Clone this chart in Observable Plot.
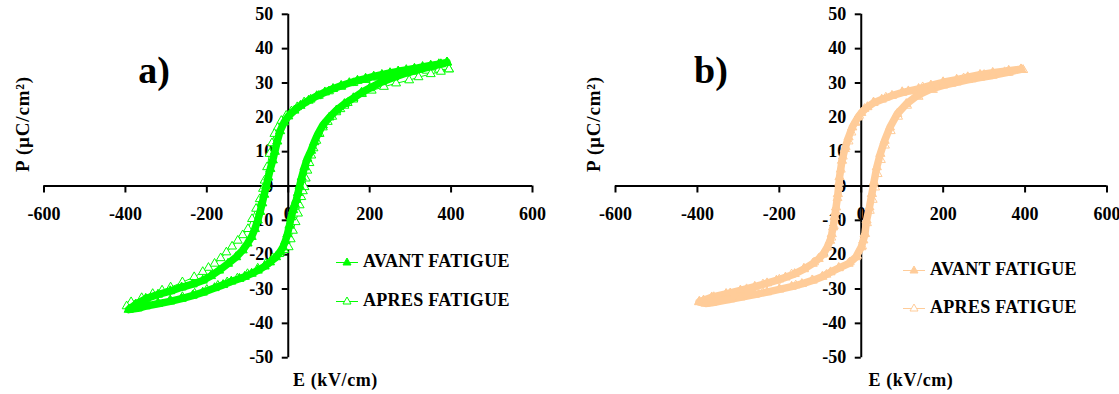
<!DOCTYPE html>
<html><head><meta charset="utf-8">
<script src="https://cdn.jsdelivr.net/npm/d3@7"></script>
<script src="https://cdn.jsdelivr.net/npm/@observablehq/plot@0.6"></script>
<style>
body{margin:0;background:#fff;}
#wrap{position:relative;width:1119px;height:394px;overflow:hidden;font-family:"Liberation Serif","Times New Roman",serif;font-weight:bold;color:#000;}
.panel{position:absolute;top:0;}
.abs{position:absolute;white-space:nowrap;transform:translate(-50%,-50%);}
.tag{font-size:38px;}
.ax{font-size:18px;letter-spacing:0.6px;}
.pl{font-size:19px;letter-spacing:0.8px;transform:translate(-50%,-50%) rotate(-90deg);}
.leg{position:absolute;display:flex;align-items:center;gap:5px;font-size:18px;letter-spacing:0.3px;transform:translateY(-50%);white-space:nowrap;}
</style></head><body><div id="wrap"></div>
<script>
// ---- data (E in kV/cm, P in µC/cm²) ----
const xTicks = [-600, -400, -200, 0, 200, 400, 600];
const xTickLabels = ["-600", "-400", "-200", "0", "200", "400", "600"];
const yTicks = [50, 40, 30, 20, 10, 0, -10, -20, -30, -40, -50];
const yTickLabels = ["50", "40", "30", "20", "10", "0", "-10", "-20", "-30", "-40", "-50"];
const seriesNames = ["AVANT FATIGUE", "APRES FATIGUE"];
const panelTags = ["a)", "b)"];
const xLabel = "E (kV/cm)";
const yLabel = "P (µC/cm²)";
const colorA = "#00ff00";
const colorB = "#ffcc99";

// panel a) - avant fatigue (filled triangles)
const aAvant = [
[390,36],[370,35.5],[350,35.1],[330,34.7],[310,34.2],[290,33.8],[270,33.4],[250,32.9],[230,32.4],[210,31.9],[190,31.3],[170,30.7],[150,30],[130,29.2],[110,28.3],[90,27.3],[70,26.2],[50,24.9],[30,23.4],[15,22],[0,20.3],[-10,18.6],[-20,16],[-27,13],[-33,10],[-38,7.5],[-44,5],[-49,2.5],[-54,0],[-59,-2.5],[-64,-5],[-69,-7.5],[-75,-10],[-82,-12.5],[-90,-14.8],[-100,-16.7],[-112,-18.7],[-128,-20.7],[-148,-22.6],[-170,-24.6],[-190,-26.2],[-210,-27.5],[-235,-28.6],[-262,-29.5],[-290,-30.6],[-320,-31.6],[-350,-32.8],[-375,-34.5],[-392,-36],
[-370,-35.6],[-350,-35],[-320,-34.3],[-290,-33.6],[-262,-32.8],[-235,-31.9],[-210,-31],[-181,-29.7],[-160,-28.8],[-140,-27.8],[-120,-27],[-107,-26.4],[-90,-25.5],[-75,-24.6],[-58,-23.4],[-45,-22.2],[-30,-20.7],[-20,-19.2],[-13,-17.8],[-7,-16],[-2,-14],[3,-11.5],[7,-9.1],[12,-7],[16,-5.3],[20,-4],[24,-2],[28,0],[33,2.5],[40,5.5],[47,8],[56,10.3],[64,12.8],[73,15.2],[85,17.7],[101,20],[118,22],[138,23.9],[160,25.6],[180,27.2],[200,28.5],[230,30.3],[260,31.7],[290,32.9],[320,33.9],[350,34.8],[375,35.5],[390,36]
];
// panel a) - apres fatigue (open triangles)
const aApres = [
[395,34],[370,33.9],[340,33.6],[310,33.3],[280,32.9],[250,32.3],[220,31.6],[190,30.9],[160,30],[130,28.9],[100,27.6],[75,26.3],[55,25.2],[39,24.4],[22,23],[8,21.8],[-5,20.5],[-17,19],[-26,17],[-34,15.2],[-40,12.5],[-46,9.4],[-52,5.5],[-58,1.6],[-62,-0.8],[-70,-3.8],[-79,-6.6],[-89,-9.6],[-99,-12.5],[-112,-14.3],[-124,-15.9],[-138,-17.6],[-152,-19.3],[-166,-21],[-181,-22.6],[-196,-23.8],[-210,-25],[-231,-26.5],[-260,-28],[-289,-29.5],[-310,-30.4],[-333,-31.4],[-360,-32.6],[-386,-33.8],[-397,-35],
[-380,-35.2],[-350,-34.6],[-320,-34],[-290,-33.2],[-260,-32.3],[-230,-31.3],[-200,-30.2],[-173,-29],[-150,-28],[-125,-26.9],[-100,-25.6],[-75,-24],[-55,-22.6],[-38,-21],[-22,-19.8],[-10,-18.6],[1,-17.8],[6,-15.5],[11.5,-13],[18,-10.5],[24,-8],[28,-5.6],[32,-3.2],[36,-1.5],[40,-0.3],[43,2.2],[47,4.5],[52,6.7],[56.5,8.9],[62,11],[69,13.2],[77,15.2],[85,17.1],[97,18.7],[108,20.2],[118,21.5],[128,22.4],[138,23.4],[146,24.2],[160,25.2],[181,26.8],[205,27.8],[235,28.9],[265,29.9],[297,30.8],[320,31.7],[350,32.6],[375,33.3],[395,34]
];
// panel b) - avant fatigue
const bAvant = [
[390,34],[360,33.6],[321,33],[290,32.4],[260,31.7],[233,31],[200,30.2],[170,29.3],[140,28.3],[115,27.6],[100,27.2],[75,26.3],[50,25.2],[30,24.2],[15,23],[0,21.3],[-8,20],[-15,18.6],[-22,17.1],[-31,14.2],[-40,10.8],[-47,7.4],[-53,2.6],[-57,-2.3],[-61.5,-6.2],[-65,-9],[-68.6,-12],[-72,-14],[-76,-15.9],[-83,-17.8],[-92,-19.7],[-104,-21.2],[-118.6,-22.6],[-140,-24.2],[-162.6,-25.6],[-185,-26.6],[-207,-27.5],[-230,-28.3],[-260,-29.3],[-295,-30.4],[-330,-31.4],[-365,-32.4],[-385,-33.3],[-396,-33.8],
[-380,-34.2],[-365,-34],[-330,-33.2],[-295,-32.4],[-260,-31.6],[-230,-30.9],[-200,-30.1],[-170,-29.3],[-145,-28.5],[-118.6,-27.5],[-95,-26.4],[-75,-25.1],[-55,-23.9],[-31,-22.6],[-13,-20.7],[0,-17.8],[5,-15.8],[9,-13.9],[13,-10],[20,-6.2],[26,-2.3],[31,1.1],[38,5.5],[46.6,9.4],[57,13.2],[70,17.1],[88,21],[110,23.9],[136,26.3],[171,28.3],[200,29.3],[233,30.2],[260,30.9],[290,31.6],[321,32.2],[355,33],[390,34]
];
// panel b) - apres fatigue
const bApres = [
[395,33.8],[350,33.2],[300,32.4],[250,31.4],[200,30.3],[150,28.8],[100,27.4],[60,25.8],[30,24.4],[8,22.5],[-5,20.5],[-15,18.4],[-24,15.6],[-31,13],[-38,11.4],[-45,8.6],[-50,4.8],[-54,1],[-58,-3.5],[-62,-7.5],[-67,-11.6],[-73,-15],[-82,-17.7],[-95,-20],[-115,-22.2],[-140,-24],[-170,-25.7],[-200,-27.2],[-240,-28.6],[-280,-30],[-320,-31.2],[-360,-32.3],[-395,-33.6],
[-360,-33.8],[-320,-33],[-280,-32],[-240,-31],[-200,-30],[-160,-28.9],[-120,-27.4],[-85,-25.8],[-55,-23.8],[-28,-22.2],[-10,-20.3],[2,-17.5],[8,-14],[14,-10.8],[21,-7.2],[28,-4],[34,-0.4],[40,3.5],[48,7.6],[58,11.8],[72,16],[90,20.2],[112,23.4],[140,26],[175,28],[220,29.8],[270,31.1],[320,32.2],[360,33],[395,33.8]
];

// ---- drawing ----
const FONT = "'Liberation Serif', 'Times New Roman', serif";
function panel(avant, apres, color, w, ml, mr) {
  return Plot.plot({
    width: w, height: 394,
    marginLeft: ml, marginRight: mr, marginTop: 13.8, marginBottom: 36.8,
    x: {domain: [-600, 600], axis: null},
    y: {domain: [-50, 50], axis: null},
    style: {background: "transparent", overflow: "visible", fontFamily: FONT},
    marks: [
      Plot.ruleY([0], {stroke: "#000", strokeWidth: 2}),
      Plot.ruleX([0], {stroke: "#000", strokeWidth: 2}),
      Plot.ruleX(xTicks, {x: d => d, y1: 0, y2: 0, insetBottom: -7, stroke: "#000", strokeWidth: 2}),
      Plot.ruleY(yTicks, {y: d => d, x1: 0, x2: 0, insetLeft: -6, stroke: "#000", strokeWidth: 2}),
      Plot.text(xTicks, {x: d => d, y: 0, dy: 28.5, text: (d, i) => xTickLabels[i],
        fontFamily: FONT, fontWeight: "bold", fontSize: 18, letterSpacing: 0.6}),
      Plot.text(yTicks, {x: 0, y: d => d, dx: -15, textAnchor: "end", text: (d, i) => yTickLabels[i],
        fontFamily: FONT, fontWeight: "bold", fontSize: 18, letterSpacing: 0.6}),
      Plot.line(apres, {x: d => d[0], y: d => d[1], stroke: color, strokeWidth: 1}),
      Plot.dot(apres, {x: d => d[0], y: d => d[1], symbol: "triangle", r: 3.3, stroke: color, fill: "#fff", strokeWidth: 1}),
      Plot.line(avant, {x: d => d[0], y: d => d[1], stroke: color, strokeWidth: 7.5}),
      Plot.dot(avant, {x: d => d[0], y: d => d[1], symbol: "triangle", r: 3.4, fill: color, stroke: color, strokeWidth: 1})
    ]
  });
}

const wrap = document.getElementById("wrap");
function place(el, left) { el.classList.add("panel"); el.style.left = left + "px"; wrap.appendChild(el); }
place(panel(aAvant, aApres, colorA, 560, 43.5, 28), 0);
place(panel(bAvant, bApres, colorB, 559, 55, 12.5), 560);

function addDiv(cls, text, x, y) {
  const d = document.createElement("div");
  d.className = "abs " + cls;
  d.textContent = text;
  d.style.left = x + "px"; d.style.top = y + "px";
  wrap.appendChild(d);
  return d;
}
addDiv("tag", panelTags[0], 154, 70);
addDiv("tag", panelTags[1], 711, 70);
addDiv("ax", xLabel, 335.5, 380);
addDiv("ax", xLabel, 911, 380);
addDiv("pl", yLabel, 23, 124);
addDiv("pl", yLabel, 594, 124);

function legendRow(x, y, color, filled, label) {
  const d = document.createElement("div");
  d.className = "leg";
  d.style.left = x + "px"; d.style.top = y + "px";
  const ns = "http://www.w3.org/2000/svg";
  const s = document.createElementNS(ns, "svg");
  s.setAttribute("width", 22); s.setAttribute("height", 10);
  const l = document.createElementNS(ns, "line");
  l.setAttribute("x1", 0); l.setAttribute("x2", 22); l.setAttribute("y1", 6); l.setAttribute("y2", 6);
  l.setAttribute("stroke", color); l.setAttribute("stroke-width", 1.2);
  const p = document.createElementNS(ns, "path");
  p.setAttribute("d", "M11,1.5 L15,8.5 L7,8.5 Z");
  p.setAttribute("fill", filled ? color : "#fff"); p.setAttribute("stroke", color);
  s.appendChild(l); s.appendChild(p);
  const t = document.createElement("span"); t.textContent = label;
  d.appendChild(s); d.appendChild(t);
  wrap.appendChild(d);
}
legendRow(336, 261, colorA, true, seriesNames[0]);
legendRow(336, 300, colorA, false, seriesNames[1]);
legendRow(903, 269, colorB, true, seriesNames[0]);
legendRow(903, 307, colorB, false, seriesNames[1]);
</script>
</body></html>
